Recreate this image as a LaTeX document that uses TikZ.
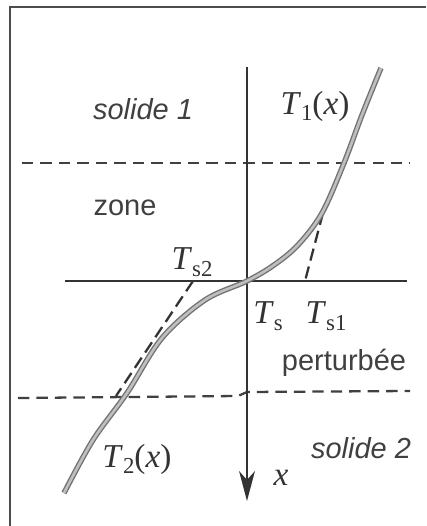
\documentclass[tikz,border=0pt]{standalone}
\usepackage{fontspec}
\setmainfont{Liberation Serif}
\setsansfont{Liberation Sans}
\usetikzlibrary{arrows.meta}

\newcommand{\tsub}[1]{\raisebox{-0.45ex}{\fontsize{13}{13}\selectfont #1}}

\tikzset{
	zonetext/.style={font=\sffamily\fontsize{16.5}{18}\selectfont, text=black!75},
	templabel/.style={font=\fontsize{19}{21}\selectfont, text=black!80},
	limitline/.style={black!75, line width=1.3pt, dash pattern=on 6.5pt off 4pt},
	tangent/.style={black!80, line width=1.3pt, dash pattern=on 7pt off 3.5pt},
	profile/.style={draw=black!55, double=black!25, double distance=1.5pt, line width=0.8pt}
}

\begin{document}
\begin{tikzpicture}[x=0.02cm, y=-0.02cm]
		\useasboundingbox (0,0) rectangle (426,526);
		% cadre
		\draw[black!70, line width=1pt] (426,7) -- (10,7) -- (10,526);
		% limites de la zone perturbee
		\draw[limitline] (22,163) -- (410,163);
		\draw[limitline] (18,398) -- (238,396) -- (247,392) -- (410,391);
		% interface
		\draw[black!80, line width=1.2pt] (65,281) -- (407,281);
		% axe x
		\draw[black!80, line width=1.4pt, -{Stealth[length=17pt, width=9pt, inset=5pt]}] (247,67) -- (247,501);
		% tangentes
		\coordinate (ts1) at (305,281);
		\coordinate (ts2) at (193,281);
		\draw[tangent] (323,213) -- (ts1);
		\draw[tangent] (ts2) -- (116,396);
		% profil de temperature
		\draw[profile] plot[smooth, tension=0.55] coordinates {(381,68) (362,115) (344,163) (322,213) (298,245) (274,265) (247,281) (205,300) (162,338) (127,393) (93,440) (64,493)};
		% textes
		\node[zonetext] (sol1) at (143,109) {\itshape solide 1};
		\node[zonetext] (zone) at (125,208) {zone};
		\node[zonetext] (pert) at (344,363) {perturbée};
		\node[zonetext] (sol2) at (361,448) {\itshape solide 2};
		\node[templabel] (t1) at (315,106) {\textit{T}\tsub{1}(\textit{x})};
		\node[templabel] (t2) at (137,459) {\textit{T}\tsub{2}(\textit{x})};
		\node[templabel] (tsa) at (192,262) {\textit{T}\tsub{s2}};
		\node[templabel] (ts) at (268,316) {\textit{T}\tsub{s}};
		\node[templabel] (tsb) at (326,316) {\textit{T}\tsub{s1}};
		\node[templabel] (xlab) at (281,478) {\textit{x}};
\end{tikzpicture}
\end{document}
